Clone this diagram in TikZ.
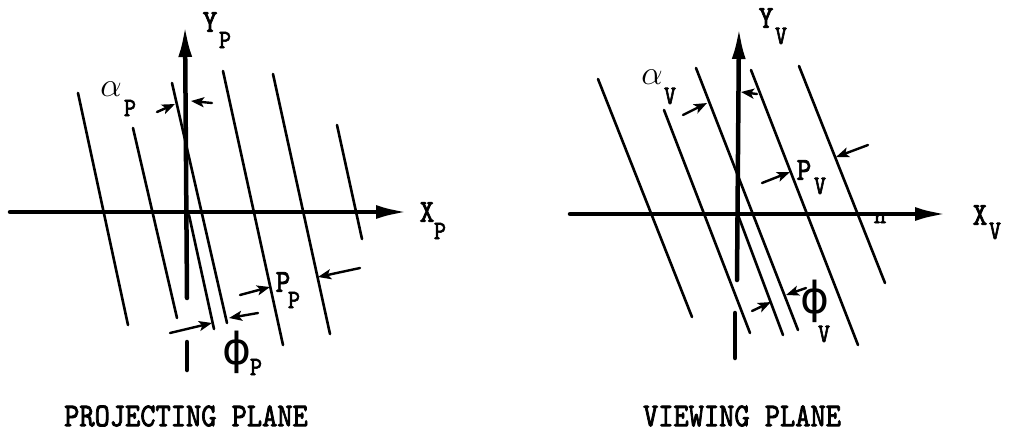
\documentclass[tikz,border=0pt]{standalone}
\usepackage{fix-cm}
\usepackage{fontspec}
\usepackage{graphicx}
\usetikzlibrary{arrows.meta}
\newfontfamily\twfont{lmmono10-regular.otf}[FakeBold=2.5]
\newfontfamily\phifont{DejaVu Sans}
\newcommand{\tall}[1]{\scalebox{1}[1.15]{#1}}
\begin{document}
\begin{tikzpicture}[x=1pt,y=-1pt,
  axisline/.style={line width=4.5pt, line cap=round},
  axisarrow/.style={line width=4.5pt, line cap=round, -{Latex[length=32pt,width=14pt]}},
  ln/.style={line width=2.6pt, line cap=round},
  dimarrow/.style={line width=2.4pt, line cap=round, -{Stealth[length=13pt,width=10pt,inset=3pt]}},
  mainlab/.style={inner sep=0pt, font=\fontsize{28}{30}\selectfont\twfont},
  sublab/.style={inner sep=0pt, font=\fontsize{23}{25}\selectfont\twfont},
  greeklab/.style={inner sep=0pt, font=\fontsize{34}{36}\selectfont},
  phlab/.style={inner sep=0pt, font=\fontsize{44}{46}\selectfont\phifont},
  caption/.style={inner sep=0pt, font=\fontsize{29}{31}\selectfont\twfont}]
\useasboundingbox (0,0) rectangle (1010,432);

% ---------------- PROJECTING PLANE ----------------
\coordinate (pyb) at (187,298);
\coordinate (pyt) at (185,25);
\coordinate (pyl1) at (187,342);
\coordinate (pyl2) at (187,370);
\coordinate (pxl) at (10,212);
\coordinate (pxr) at (408,212);
\draw[axisarrow] (pyb) -- (pyt);
\draw[axisline] (pyl1) -- (pyl2);
\draw[axisarrow] (pxl) -- (pxr);

\coordinate (p1a) at (78,93);   \coordinate (p1b) at (128,325);
\coordinate (p2a) at (133,128); \coordinate (p2b) at (177,318);
\coordinate (p3a) at (172,83);  \coordinate (p3b) at (227,323);
\coordinate (p0a) at (189,215); \coordinate (p0b) at (214,329);
\coordinate (p4a) at (223,71);  \coordinate (p4b) at (283,345);
\coordinate (p5a) at (273,74);  \coordinate (p5b) at (330,334);
\coordinate (p6a) at (337,125); \coordinate (p6b) at (362,239);
\foreach \i in {1,2,3,0,4,5,6} \draw[ln] (p\i a) -- (p\i b);

% alpha_P
\coordinate (pat1) at (157,112); \coordinate (pah1) at (175,104);
\coordinate (pat2) at (212,103); \coordinate (pah2) at (191,101);
\draw[dimarrow] (pat1) -- (pah1);
\draw[dimarrow] (pat2) -- (pah2);
\node[greeklab] (palpha) at (111,89) {$\alpha$};
\node[sublab] (palphas) at (130,108) {\tall{P}};

% P_P
\coordinate (ppt1) at (240,295); \coordinate (pph1) at (270,287);
\coordinate (ppt2) at (360,268); \coordinate (pph2) at (318,277);
\draw[dimarrow] (ppt1) -- (pph1);
\draw[dimarrow] (ppt2) -- (pph2);
\node[mainlab] (ppP) at (283,282) {\tall{P}};
\node[sublab] (ppPs) at (294,300) {\tall{P}};

% Phi_P
\coordinate (pft1) at (170,333); \coordinate (pfh1) at (212,323);
\coordinate (pft2) at (258,313); \coordinate (pfh2) at (229,318);
\draw[dimarrow] (pft1) -- (pfh1);
\draw[dimarrow] (pft2) -- (pfh2);
\node[phlab] (pphi) at (237,352) {ϕ};
\node[sublab] (pphis) at (256,367) {\tall{P}};

\node[mainlab] (pY) at (210,22) {\tall{Y}};
\node[sublab] (pYs) at (225,40) {\tall{P}};
\node[mainlab] (pX) at (427,212) {\tall{X}};
\node[sublab] (pXs) at (440,231) {\tall{P}};

\node[caption] (pcap) at (186,416) {\tall{PROJECTING PLANE}};

% ---------------- VIEWING PLANE ----------------
\coordinate (vyb) at (737,280);
\coordinate (vyt) at (739,27);
\coordinate (vyl1) at (735,313);
\coordinate (vyl2) at (735,358);
\coordinate (vxl) at (570,214);
\coordinate (vxr) at (947,214);
\draw[axisarrow] (vyb) -- (vyt);
\draw[axisline] (vyl1) -- (vyl2);
\draw[axisarrow] (vxl) -- (vxr);

\coordinate (v1a) at (598,79);  \coordinate (v1b) at (692,317);
\coordinate (v2a) at (664,110); \coordinate (v2b) at (750,333);
\coordinate (v3a) at (696,68);  \coordinate (v3b) at (798,330);
\coordinate (v0a) at (738,215); \coordinate (v0b) at (783,335);
\coordinate (v4a) at (751,70);  \coordinate (v4b) at (858,345);
\coordinate (v5a) at (799,66);  \coordinate (v5b) at (885,283);
\foreach \i in {1,2,3,0,4,5} \draw[ln] (v\i a) -- (v\i b);

% alpha_V
\coordinate (vat1) at (683,115); \coordinate (vah1) at (707,103);
\coordinate (vat2) at (757,94);  \coordinate (vah2) at (741,92);
\draw[dimarrow] (vat1) -- (vah1);
\draw[dimarrow] (vat2) -- (vah2);
\node[greeklab] (valpha) at (652,77) {$\alpha$};
\node[sublab] (valphas) at (670,96) {\tall{V}};

% P_V
\coordinate (vpt1) at (762,183); \coordinate (vph1) at (790,172);
\coordinate (vpt2) at (868,145); \coordinate (vph2) at (836,157);
\draw[dimarrow] (vpt1) -- (vph1);
\draw[dimarrow] (vpt2) -- (vph2);
\node[mainlab] (vpP) at (804,170) {\tall{P}};
\node[sublab] (vpPs) at (820,186) {\tall{V}};

% Phi_V
\coordinate (vft1) at (752,311); \coordinate (vfh1) at (771,302);
\coordinate (vft2) at (806,288); \coordinate (vfh2) at (786,295);
\draw[dimarrow] (vft1) -- (vfh1);
\draw[dimarrow] (vft2) -- (vfh2);
\node[phlab] (vphi) at (815,301) {ϕ};
\node[sublab] (vphis) at (824,334) {\tall{V}};

\node[sublab] (vn) at (880,218) {n};

\node[mainlab] (vY) at (766,18) {\tall{Y}};
\node[sublab] (vYs) at (781,36) {\tall{V}};
\node[mainlab] (vX) at (980,215) {\tall{X}};
\node[sublab] (vXs) at (995,231) {\tall{V}};

\node[caption] (vcap) at (742,416) {\tall{VIEWING PLANE}};
\end{tikzpicture}
\end{document}
